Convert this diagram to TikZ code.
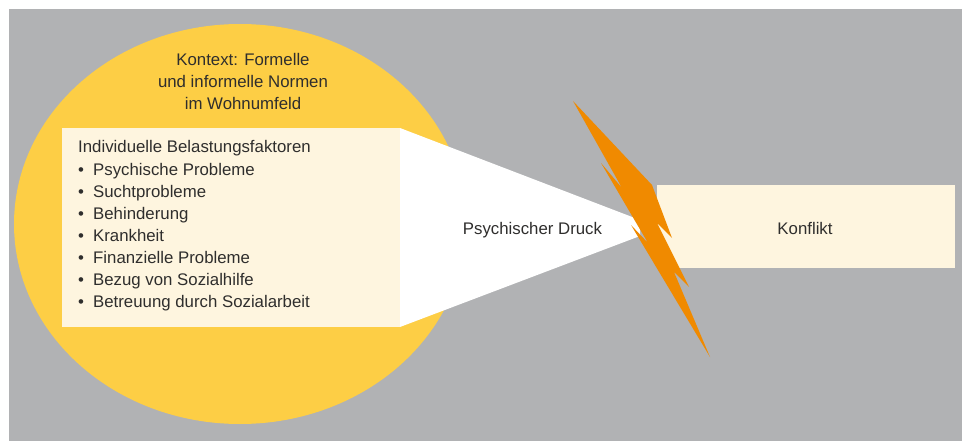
\documentclass[tikz,border=0pt]{standalone}
\usepackage{fontspec}
\setmainfont{Liberation Sans}
\usetikzlibrary{shapes.geometric}
\definecolor{bggray}{HTML}{B1B2B4}
\definecolor{ctxyellow}{HTML}{FDCE45}
\definecolor{creambox}{HTML}{FEF5DF}
\definecolor{boltorange}{HTML}{F08A00}
\definecolor{txtdark}{HTML}{2F2E2D}
\tikzset{
  txt/.style={inner sep=0pt, text=txtdark, font=\fontsize{16.8}{22}\selectfont},
  listline/.style={txt, anchor=base west},
  ctxline/.style={txt, anchor=base},
  panel/.style={fill=creambox, draw=none, inner sep=0pt, rectangle},
}
\begin{document}
\begin{tikzpicture}[x=1pt,y=-1pt]
\useasboundingbox (0,0) rectangle (969,441);
\fill[white] (0,0) rectangle (969,441);
\fill[bggray] (9,9) rectangle (962,441);
% context ellipse
\node[ellipse, fill=ctxyellow, minimum width=452pt, minimum height=400pt, inner sep=0pt] (ctx) at (240,224) {};
\node[ctxline] (c1) at (243,66) {Kontext: Formelle};
\node[ctxline] (c2) at (243,88) {und informelle Normen};
\node[ctxline] (c3) at (243,110) {im Wohnumfeld};
% white pressure wedge
\fill[white] (400,128) -- (640,220) -- (640,236) -- (400,327) -- cycle;
% individual factors box
\node[panel, minimum width=338pt, minimum height=199pt] (factors) at (231,227.5) {};
\node[listline] (l0) at (78,153) {Individuelle Belastungsfaktoren};
\foreach \t [count=\i] in {Psychische Probleme, Suchtprobleme, Behinderung, Krankheit, Finanzielle Probleme, Bezug von Sozialhilfe, Betreuung durch Sozialarbeit}{
  \node[listline] (l\i) at (78,{153+22.1*\i}) {\makebox[15pt][l]{\textbullet}\t};
}
% pressure label
\node[ctxline] (druck) at (532.5,234) {Psychischer Druck};
% conflict box
\node[panel, minimum width=298pt, minimum height=83pt] (konflikt) at (806,226.5) {};
\node[ctxline] (klabel) at (805,234) {Konflikt};
% lightning bolt
\fill[boltorange] (573,101) -- (652,185) -- (672,238) -- (657,223) -- (689,287) -- (674,272) -- (710,357)
  -- (631,225) -- (648,243) -- (601,163) -- (622,188) -- cycle;
\end{tikzpicture}
\end{document}
